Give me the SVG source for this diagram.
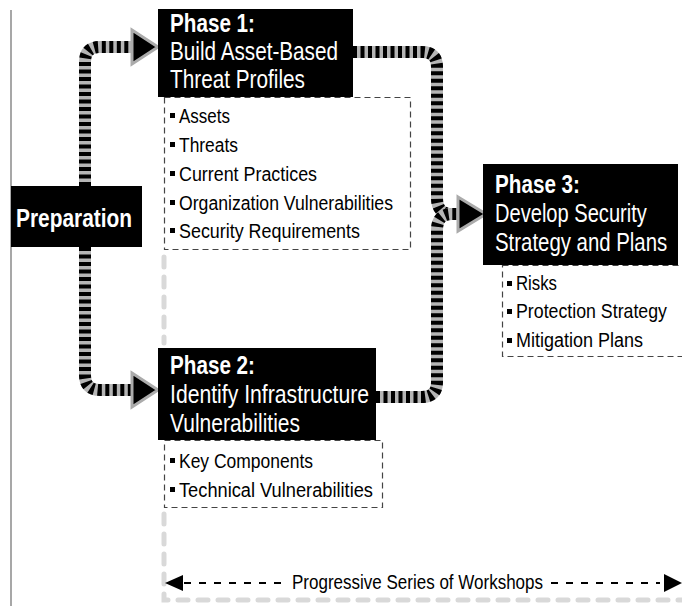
<svg xmlns="http://www.w3.org/2000/svg" width="682" height="606" viewBox="0 0 682 606">
<defs>
<style>
.hdr{fill:#000}
.t{font-family:"Liberation Sans",Arial,sans-serif;fill:#fff;font-size:25px}
.tb{font-family:"Liberation Sans",Arial,sans-serif;fill:#fff;font-size:25px;font-weight:bold}
.b{font-family:"Liberation Sans",Arial,sans-serif;fill:#000;font-size:20px}
.dbox{fill:none;stroke:#444;stroke-width:1.2;stroke-dasharray:6 4}
.cb{fill:none;stroke:#b5b5b5;stroke-width:12}
.cd{fill:none;stroke:#000;stroke-width:12;stroke-dasharray:4 3.5}
.ah{fill:#000;stroke:#ababab;stroke-width:3;stroke-linejoin:miter}
.ws{fill:none;stroke:#d9d9d9;stroke-width:5;stroke-linecap:round;stroke-dasharray:10 10}
.wl{fill:none;stroke:#000;stroke-width:2;stroke-dasharray:7 8}
</style>
</defs>
<rect width="682" height="606" fill="#fff"/>
<line x1="11" y1="10" x2="11" y2="606" stroke="#8a8a8a" stroke-width="1.5"/>

<g id="workshops">
<path class="ws" d="M164,257 V343"/>
<path class="ws" d="M164,514 V600 H690"/>
<line class="wl" x1="184" y1="583" x2="288" y2="583"/>
<line class="wl" x1="551" y1="583" x2="660" y2="583"/>
<polygon points="165,583 183,575 183,591" fill="#000"/>
<polygon points="682,583 664,574 664,592" fill="#000"/>
<text class="b" x="292" y="589" font-size="19" textLength="251" lengthAdjust="spacingAndGlyphs">Progressive Series of Workshops</text>
</g>

<g id="connectors">
<path class="cb" d="M85,186 V62 Q85,47 100,47 H133"/>
<path class="cd" d="M85,186 V62 Q85,47 100,47 H133"/>
<path class="cb" d="M85,247 V375 Q85,390 100,390 H133"/>
<path class="cd" d="M85,247 V375 Q85,390 100,390 H133"/>
<path class="cb" d="M353,52 H422 Q437,52 437,67 V198 Q437,214 452,214 H459"/>
<path class="cd" d="M353,52 H422 Q437,52 437,67 V198 Q437,214 452,214 H459"/>
<path class="cb" d="M376,397 H422 Q437,397 437,382 V230 Q437,214 452,214 H459"/>
<path class="cd" d="M376,397 H422 Q437,397 437,382 V230 Q437,214 452,214 H459"/>
<polygon class="ah" points="132,30 158,47 132,64"/>
<polygon class="ah" points="132,373 158,390 132,407"/>
<polygon class="ah" points="458,197 486,214 458,231"/>
</g>

<g id="preparation">
<rect class="hdr" x="11" y="186" width="131" height="61"/>
<text class="tb" x="16" y="227" textLength="116" lengthAdjust="spacingAndGlyphs">Preparation</text>
</g>

<g id="phase1">
<rect class="dbox" x="164.5" y="97.5" width="246" height="152"/>
<rect class="hdr" x="158" y="9" width="195" height="88"/>
<text class="tb" x="170" y="32" textLength="85" lengthAdjust="spacingAndGlyphs">Phase 1:</text>
<text class="t" x="170" y="60" textLength="168" lengthAdjust="spacingAndGlyphs">Build Asset-Based</text>
<text class="t" x="170" y="88" textLength="135" lengthAdjust="spacingAndGlyphs">Threat Profiles</text>
<rect x="170" y="113" width="5" height="5"/>
<text class="b" x="179" y="123" textLength="51" lengthAdjust="spacingAndGlyphs">Assets</text>
<rect x="170" y="142" width="5" height="5"/>
<text class="b" x="179" y="152" textLength="59" lengthAdjust="spacingAndGlyphs">Threats</text>
<rect x="170" y="171" width="5" height="5"/>
<text class="b" x="179" y="181" textLength="138" lengthAdjust="spacingAndGlyphs">Current Practices</text>
<rect x="170" y="200" width="5" height="5"/>
<text class="b" x="179" y="210" textLength="214" lengthAdjust="spacingAndGlyphs">Organization Vulnerabilities</text>
<rect x="170" y="228" width="5" height="5"/>
<text class="b" x="179" y="238" textLength="181" lengthAdjust="spacingAndGlyphs">Security Requirements</text>
</g>

<g id="phase2">
<rect class="dbox" x="164.5" y="440.5" width="218" height="67"/>
<rect class="hdr" x="158" y="348" width="218" height="92"/>
<text class="tb" x="170" y="374" textLength="85" lengthAdjust="spacingAndGlyphs">Phase 2:</text>
<text class="t" x="170" y="403" textLength="199" lengthAdjust="spacingAndGlyphs">Identify Infrastructure</text>
<text class="t" x="170" y="432" textLength="130" lengthAdjust="spacingAndGlyphs">Vulnerabilities</text>
<rect x="170" y="458" width="5" height="5"/>
<text class="b" x="179" y="468" textLength="134" lengthAdjust="spacingAndGlyphs">Key Components</text>
<rect x="170" y="487" width="5" height="5"/>
<text class="b" x="179" y="497" textLength="194" lengthAdjust="spacingAndGlyphs">Technical Vulnerabilities</text>
</g>

<g id="phase3">
<rect class="dbox" x="502.5" y="265.5" width="200" height="91"/>
<rect class="hdr" x="483" y="164" width="195" height="101"/>
<text class="tb" x="495" y="193" textLength="85" lengthAdjust="spacingAndGlyphs">Phase 3:</text>
<text class="t" transform="matrix(0.804,0,0,1,495,222)" x="0" y="0">Develop Security</text>
<text class="t" transform="matrix(0.816,0,0,1,495,251)" x="0" y="0">Strategy and Plans</text>
<rect x="507" y="281" width="5" height="5"/>
<text class="b" x="516" y="290" textLength="41" lengthAdjust="spacingAndGlyphs">Risks</text>
<rect x="507" y="309" width="5" height="5"/>
<text class="b" transform="matrix(0.888,0,0,1,516,318)" x="0" y="0">Protection Strategy</text>
<rect x="507" y="338" width="5" height="5"/>
<text class="b" x="516" y="347" textLength="127" lengthAdjust="spacingAndGlyphs">Mitigation Plans</text>
</g>
</svg>
